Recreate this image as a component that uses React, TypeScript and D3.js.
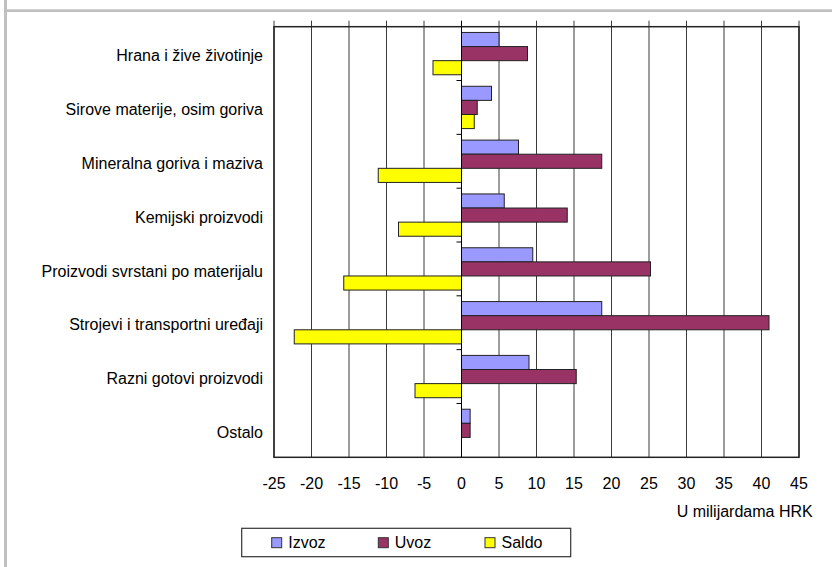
import React from 'react';
import * as d3 from 'd3';

const categories = [
  'Hrana i žive životinje',
  'Sirove materije, osim goriva',
  'Mineralna goriva i maziva',
  'Kemijski proizvodi',
  'Proizvodi svrstani po materijalu',
  'Strojevi i transportni uređaji',
  'Razni gotovi proizvodi',
  'Ostalo',
];

const seriesNames = ['Izvoz', 'Uvoz', 'Saldo'];
const seriesColors = ['#9999ff', '#993366', '#ffff00'];

const izvoz = [5.0, 4.0, 7.6, 5.7, 9.5, 18.7, 9.0, 1.15];
const uvoz = [8.8, 2.1, 18.7, 14.1, 25.2, 41.0, 15.3, 1.15];
const saldo = [-3.8, 1.7, -11.1, -8.4, -15.7, -22.3, -6.2, 0];

const xTicks = [-25, -20, -15, -10, -5, 0, 5, 10, 15, 20, 25, 30, 35, 40, 45];
const unitLabel = 'U milijardama HRK';

const W = 832;
const H = 567;
const FONT = '"Liberation Sans", Arial, sans-serif';

export default function App() {
  const left = 274;
  const right = 799;
  const top = 26.7;
  const bottom = 457.3;

  const x = d3.scaleLinear().domain([-25, 45]).range([left, right]);
  const y = d3.scaleBand<string>().domain(categories).range([top, bottom]);
  const inner = d3
    .scaleBand<string>()
    .domain(seriesNames)
    .range([0, y.bandwidth()])
    .paddingInner(0)
    .paddingOuter(0.408);

  const values = [izvoz, uvoz, saldo];
  const x0 = x(0);

  return (
    <svg
      width={W}
      height={H}
      style={{ position: 'absolute', left: 0, top: 0, background: '#fff' }}
      fontFamily={FONT}
    >
      {/* outer frame */}
      <rect x={4} y={0} width={3} height={H} fill="#c0c0c0" />
      <rect x={7} y={9.3} width={W - 7} height={2.7} fill="#c0c0c0" />

      {/* grid lines + top ticks */}
      {xTicks.map((t) => (
        <g key={t}>
          <line
            x1={x(t)}
            x2={x(t)}
            y1={top - 6}
            y2={bottom}
            stroke={t === 0 ? '#000' : '#3a3a3a'}
            strokeWidth={1}
          />
          <text x={x(t)} y={489} textAnchor="middle" fontSize={16} fill="#000">
            {t}
          </text>
        </g>
      ))}

      {/* bars */}
      {categories.map((c, ci) => (
        <g key={c} transform={`translate(0,${y(c)})`}>
          {seriesNames.map((s, si) => {
            const v = values[si][ci];
            if (Math.abs(v) < 0.01) return null;
            return (
              <rect
                key={s}
                x={Math.min(x(v), x0)}
                y={inner(s)}
                width={Math.abs(x(v) - x0)}
                height={inner.bandwidth()}
                fill={seriesColors[si]}
                stroke="#222"
                strokeWidth={1}
              />
            );
          })}
        </g>
      ))}

      {/* plot border */}
      <rect
        x={left}
        y={top}
        width={right - left}
        height={bottom - top}
        fill="none"
        stroke="#222"
        strokeWidth={1.5}
      />
      <line x1={x0} x2={x0} y1={top} y2={bottom} stroke="#000" strokeWidth={1} />

      {/* category ticks on zero line */}
      {categories.slice(1).map((c) => (
        <line
          key={c}
          x1={x0 - 5}
          x2={x0}
          y1={y(c)}
          y2={y(c)}
          stroke="#000"
          strokeWidth={1}
        />
      ))}

      {/* category labels */}
      {categories.map((c) => (
        <text
          key={c}
          x={263}
          y={(y(c) as number) + y.bandwidth() / 2 + 2}
          dy="0.35em"
          textAnchor="end"
          fontSize={16}
          fill="#000"
        >
          {c}
        </text>
      ))}

      <text x={812.7} y={517.3} textAnchor="end" fontSize={16} fill="#000">
        {unitLabel}
      </text>

      {/* legend */}
      <rect
        x={241.7}
        y={528.3}
        width={329}
        height={28.4}
        fill="#fff"
        stroke="#333"
        strokeWidth={1.2}
      />
      {seriesNames.map((s, i) => {
        const lx = [271.7, 378.3, 485][i];
        return (
          <g key={s}>
            <rect
              x={lx}
              y={537.7}
              width={10}
              height={10}
              fill={seriesColors[i]}
              stroke="#333"
              strokeWidth={1}
            />
            <text x={lx + 16.5} y={548.3} fontSize={16} fill="#000">
              {s}
            </text>
          </g>
        );
      })}
    </svg>
  );
}
